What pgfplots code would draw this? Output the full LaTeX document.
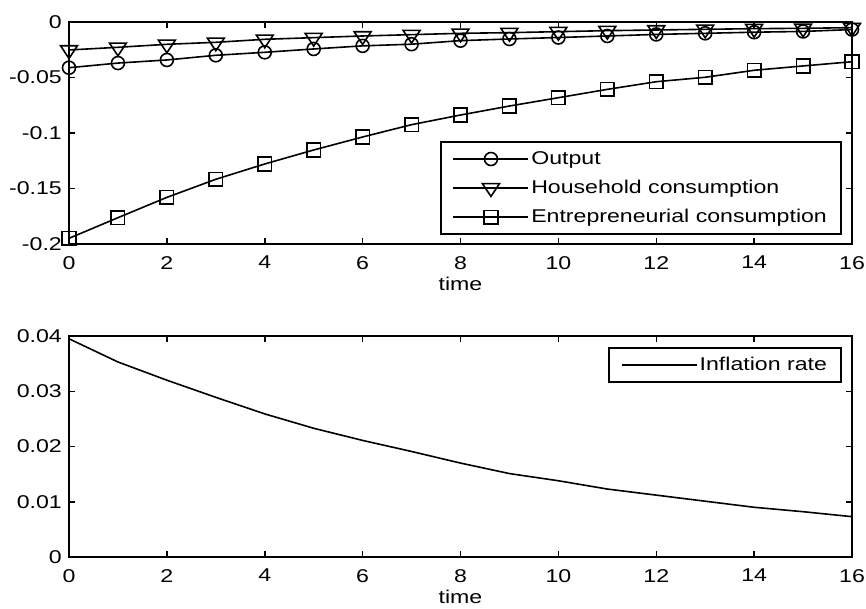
\documentclass[border=0pt]{standalone}
\usepackage{fontspec}
\setmainfont[FakeStretch=1.25]{Liberation Sans}
\usepackage{pgfplots}
\pgfplotsset{compat=1.18}
\begin{document}
\fontsize{18.5}{22}\selectfont
\begin{tikzpicture}
\pgfplotsset{
  myaxis/.style={
    scale only axis, width=783pt,
    xmin=0, xmax=16, xtick={0,2,...,16},
    scaled y ticks=false, scaled x ticks=false,
    tick align=inside, major tick length=6pt,
    axis line style={line width=2pt},
    every tick/.style={black, line width=1.5pt},
    /pgf/number format/assume math mode=true,
    xticklabel style={inner sep=0pt, yshift=-12pt},
    yticklabel style={inner sep=0pt, xshift=-7pt},
    xlabel={time},
    xlabel style={at={(axis description cs:0.5,0)}, anchor=north, inner sep=0pt, yshift=-33pt},
    legend cell align=left,
    legend image code/.code={\draw[mark repeat=2,mark phase=2] plot coordinates {(0pt,0pt) (37.5pt,0pt) (75pt,0pt)};},
    legend image post style={line width=1.6pt},
    legend style={draw=black, line width=1.8pt, inner xsep=12pt, inner ysep=7pt, row sep=9pt, font=\fontsize{18.5}{22}\selectfont},
    clip=false,
  }
}
\begin{axis}[myaxis, at={(69pt,364pt)}, anchor=south west, height=222pt,
  ymin=-0.2, ymax=0, ytick={-0.2,-0.15,-0.1,-0.05,0},
  yticklabels={-0.2,-0.15,-0.1,-0.05,0},
  legend style={at={(0.987,0.04)}, anchor=south east}]
\addplot[black, line width=1.6pt, mark=o, mark size=6.5pt, mark options={solid, line width=1.6pt}] coordinates {
(0,-0.0412) (1,-0.0370) (2,-0.0342) (3,-0.0300) (4,-0.0273) (5,-0.0243) (6,-0.0215) (7,-0.0200) (8,-0.0168) (9,-0.0153) (10,-0.0140) (11,-0.0126) (12,-0.0112) (13,-0.0102) (14,-0.0092) (15,-0.0085) (16,-0.0068)};
\addlegendentry{Output}
\addplot[black, line width=1.6pt, mark=triangle, mark size=8.5pt, mark options={solid, rotate=180, xscale=1.15, line width=1.6pt}] coordinates {
(0,-0.0252) (1,-0.0228) (2,-0.0201) (3,-0.0183) (4,-0.0156) (5,-0.0141) (6,-0.0126) (7,-0.0114) (8,-0.0102) (9,-0.0096) (10,-0.0087) (11,-0.0078) (12,-0.0072) (13,-0.0066) (14,-0.0060) (15,-0.0057) (16,-0.0051)};
\addlegendentry{Household consumption}
\addplot[black, line width=1.6pt, mark=square, mark size=6.75pt, mark options={solid, line width=1.6pt}] coordinates {
(0,-0.1949) (1,-0.1763) (2,-0.1580) (3,-0.1417) (4,-0.1279) (5,-0.1153) (6,-0.1036) (7,-0.0925) (8,-0.0838) (9,-0.0757) (10,-0.0682) (11,-0.0607) (12,-0.0538) (13,-0.0498) (14,-0.0435) (15,-0.0396) (16,-0.0358)};
\addlegendentry{Entrepreneurial consumption}
\end{axis}
\begin{axis}[myaxis, at={(69pt,51pt)}, anchor=south west, height=221pt,
  ymin=0, ymax=0.04, ytick={0,0.01,0.02,0.03,0.04},
  yticklabels={0,0.01,0.02,0.03,0.04},
  legend style={at={(0.987,0.95)}, anchor=north east}]
\addplot[black, line width=1.6pt, mark=none] coordinates {
(0,0.0395) (1,0.0353) (2,0.0320) (3,0.0289) (4,0.0259) (5,0.0233) (6,0.0211) (7,0.0191) (8,0.0170) (9,0.0151) (10,0.0138) (11,0.0123) (12,0.0112) (13,0.0101) (14,0.0090) (15,0.0082) (16,0.0073)};
\addlegendentry{Inflation rate}
\end{axis}
\pgfresetboundingbox
\useasboundingbox (0,0) rectangle (866pt,608pt);
\end{tikzpicture}
\end{document}
